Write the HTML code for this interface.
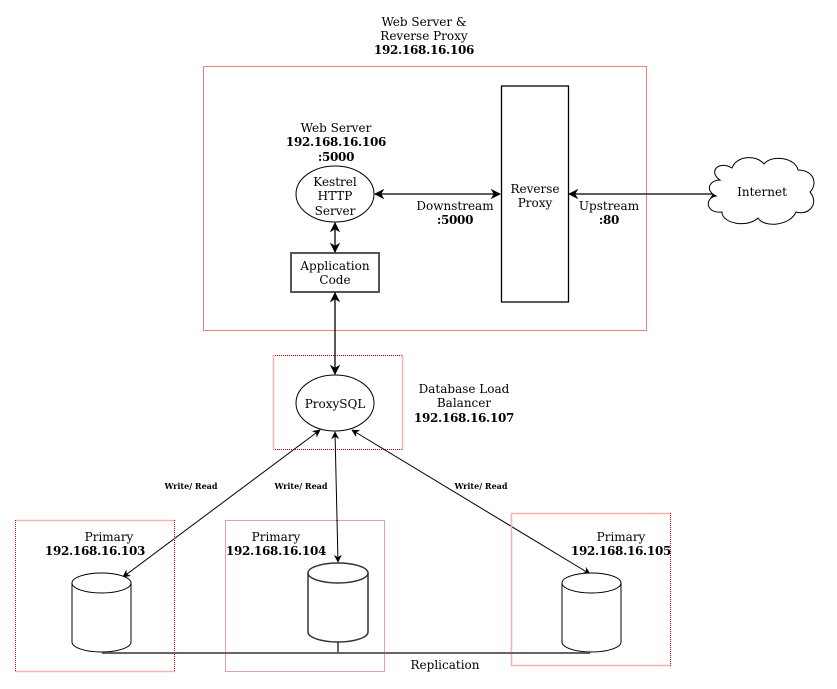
<!DOCTYPE html>
<html><head><meta charset="utf-8"><style>
html,body{margin:0;padding:0;background:#fff}
svg{display:block}
text{font-family:"DejaVu Serif","Liberation Serif",serif;font-size:12px;fill:#000;text-anchor:middle}
.b{font-weight:bold;font-size:12px;letter-spacing:-0.3px}
.s{font-size:8px;font-weight:bold}
</style></head><body>
<svg width="837" height="689" viewBox="0 0 837 689" xmlns="http://www.w3.org/2000/svg">
<defs>
<marker id="a" viewBox="0 0 10 10" refX="9" refY="5" markerWidth="8" markerHeight="8" orient="auto-start-reverse"><path d="M0,0 L10,5 L0,10 L3,5 z" fill="#000"/></marker>
</defs>
<text x="424" y="26">Web Server &amp;</text>
<text x="424" y="40">Reverse Proxy</text>
<text x="424" y="54" class="b">192.168.16.106</text>
<rect x="203.5" y="66.5" width="443" height="264" fill="none" stroke="#f08080"/>
<text x="336" y="132">Web Server</text>
<text x="336" y="146" class="b">192.168.16.106</text>
<text x="336" y="161" class="b">:5000</text>
<ellipse cx="335" cy="194" rx="39" ry="28" fill="#fff" stroke="#000"/>
<text x="335" y="186">Kestrel</text>
<text x="335" y="200">HTTP</text>
<text x="335" y="215">Server</text>
<rect x="291" y="253" width="88" height="39" fill="#fff" stroke="#555" stroke-width="2"/>
<text x="335" y="270">Application</text>
<text x="335" y="284">Code</text>
<rect x="501.5" y="86" width="67" height="216" fill="#fff" stroke="#000" stroke-width="1.3"/>
<text x="535" y="193">Reverse</text>
<text x="535" y="207">Proxy</text>
<line x1="375" y1="194" x2="500" y2="194" stroke="#000" stroke-width="1.3" marker-start="url(#a)" marker-end="url(#a)"/>
<text x="455" y="210">Downstream</text>
<text x="455" y="224" class="b">:5000</text>
<line x1="569" y1="194" x2="719" y2="194" stroke="#000" stroke-width="1.3" marker-start="url(#a)" marker-end="url(#a)"/>
<text x="609" y="210">Upstream</text>
<text x="609" y="224" class="b">:80</text>
<path d="M720,180 C708,172 718,160 732,168 C736,156 756,154 764,164 C772,154 796,158 798,170 C814,170 818,184 810,192 C820,204 808,216 796,212 C790,226 764,228 758,218 C748,228 722,224 722,212 C706,214 704,198 716,196 C704,190 710,180 720,180 Z" fill="#fff" stroke="#000"/>
<text x="762" y="196">Internet</text>
<line x1="335" y1="223" x2="335" y2="252" stroke="#000" stroke-width="1.3" marker-start="url(#a)" marker-end="url(#a)"/>
<line x1="335" y1="293" x2="335" y2="374" stroke="#000" stroke-width="1.3" marker-start="url(#a)" marker-end="url(#a)"/>
<line x1="273" y1="355.5" x2="403" y2="355.5" stroke="#a00" stroke-dasharray="1,1"/>
<line x1="273" y1="449.5" x2="403" y2="449.5" stroke="#a00" stroke-dasharray="1,1"/>
<line x1="273.5" y1="355" x2="273.5" y2="450" stroke="#f8b0b0" stroke-width="1.5"/>
<line x1="402.5" y1="355" x2="402.5" y2="450" stroke="#f8b0b0" stroke-width="1.5"/>
<ellipse cx="335" cy="403" rx="39" ry="28" fill="#fff" stroke="#000"/>
<text x="335" y="408">ProxySQL</text>
<text x="464" y="393">Database Load</text>
<text x="464" y="407">Balancer</text>
<text x="464" y="422" class="b">192.168.16.107</text>
<line x1="320" y1="430" x2="123" y2="577" stroke="#000" marker-start="url(#a)" marker-end="url(#a)"/>
<line x1="335" y1="432" x2="338" y2="562" stroke="#000" marker-start="url(#a)" marker-end="url(#a)"/>
<line x1="352" y1="430" x2="590" y2="574" stroke="#000" marker-start="url(#a)" marker-end="url(#a)"/>
<text x="191" y="489" class="s">Write/ Read</text>
<text x="301" y="489" class="s">Write/ Read</text>
<text x="481" y="489" class="s">Write/ Read</text>
<line x1="15" y1="520.5" x2="175" y2="520.5" stroke="#f8b0b0" stroke-width="1.5"/>
<line x1="15" y1="671.5" x2="175" y2="671.5" stroke="#f8b0b0" stroke-width="1.5"/>
<line x1="15.5" y1="520" x2="15.5" y2="672" stroke="#c00" stroke-dasharray="1,1"/>
<line x1="174.5" y1="520" x2="174.5" y2="672" stroke="#c00" stroke-dasharray="1,1"/>
<text x="109" y="541">Primary</text>
<text x="95" y="555" class="b">192.168.16.103</text>
<rect x="225.5" y="520.5" width="159" height="151" fill="none" stroke="#d04040" stroke-dasharray="1,1"/>
<text x="276" y="541">Primary</text>
<text x="276" y="555" class="b">192.168.16.104</text>
<line x1="511" y1="513.5" x2="671" y2="513.5" stroke="#f8b0b0" stroke-width="1.5"/>
<line x1="511" y1="665.5" x2="671" y2="665.5" stroke="#f8b0b0" stroke-width="1.5"/>
<line x1="511.5" y1="513" x2="511.5" y2="666" stroke="#f8b0b0" stroke-width="1.5"/>
<line x1="670.5" y1="513" x2="670.5" y2="666" stroke="#c00" stroke-dasharray="1,1"/>
<text x="621" y="541">Primary</text>
<text x="621" y="555" class="b">192.168.16.105</text>
<path d="M102,653 H590 M338,642 V653" stroke="#666" stroke-width="2" fill="none"/>
<text x="445" y="669">Replication</text>
<g fill="#fff" stroke="#000">
<path d="M72,583 A29.5,10 0 0 1 131,583 V642 A29.5,10 0 0 1 72,642 Z"/>
<path d="M72,583 A29.5,10 0 0 0 131,583"/>
<path d="M308,573 A30,10 0 0 1 368,573 V632 A30,10 0 0 1 308,632 Z" stroke="#333" stroke-width="1.5"/>
<path d="M308,573 A30,10 0 0 0 368,573" stroke="#333" stroke-width="1.5"/>
<path d="M562,583 A29.5,10 0 0 1 621,583 V642 A29.5,10 0 0 1 562,642 Z"/>
<path d="M562,583 A29.5,10 0 0 0 621,583"/>
</g>
</svg>
</body></html>
